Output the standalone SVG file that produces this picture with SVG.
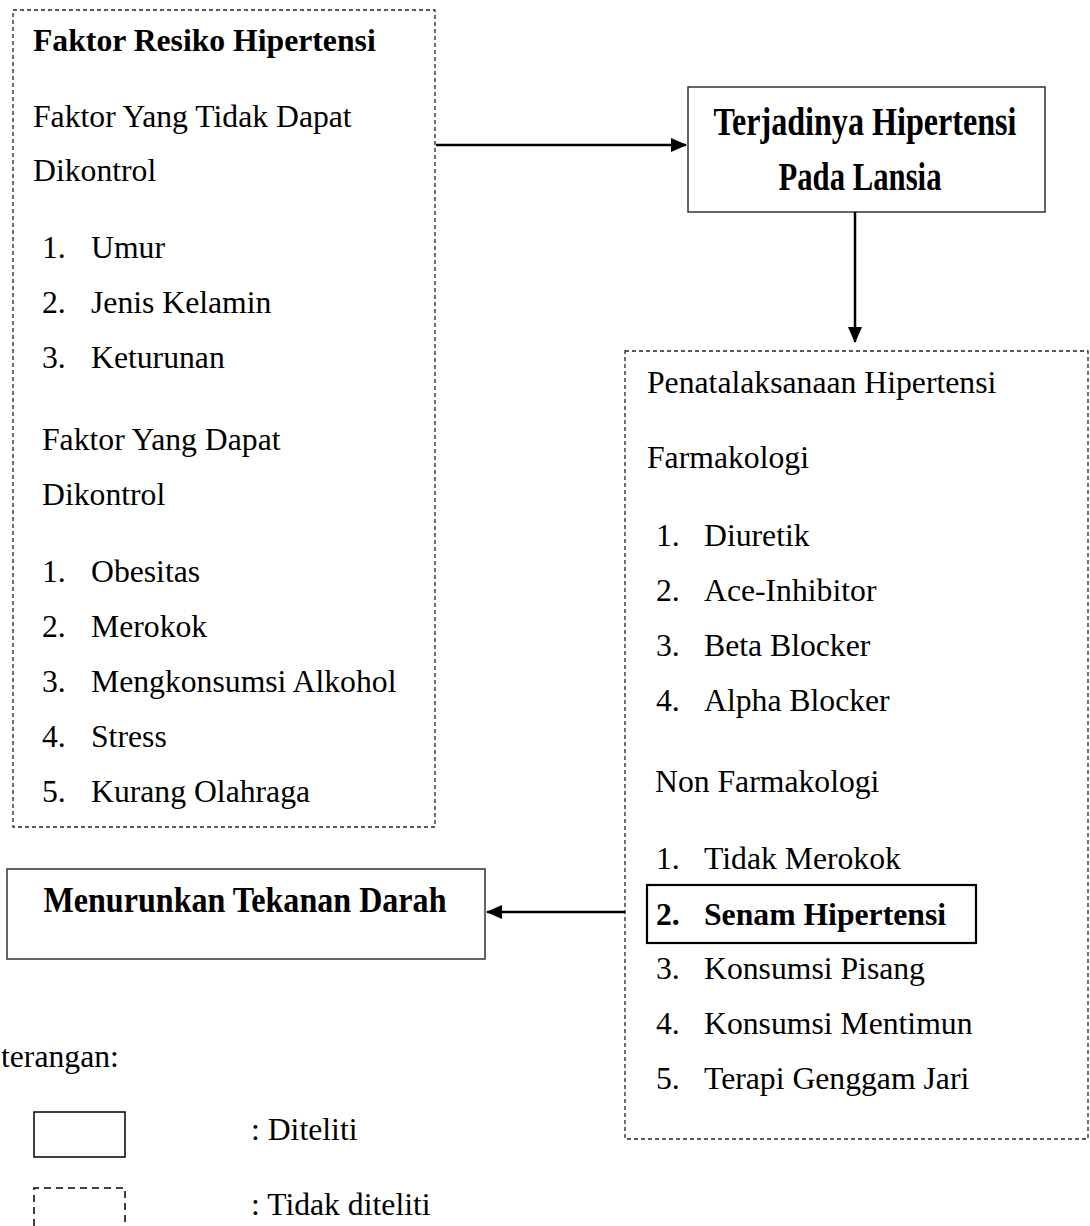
<svg xmlns="http://www.w3.org/2000/svg" width="1090" height="1226" viewBox="0 0 1090 1226">
<defs>
<style>
.t{font-family:"Liberation Serif","Times New Roman",serif;font-size:31.7px;fill:#000}
.b{font-weight:bold}
.dash{fill:none;stroke:#222;stroke-width:1.3;stroke-dasharray:4 3}
.solid{fill:#fff;stroke:#333;stroke-width:1.5}
.conn{fill:none;stroke:#000;stroke-width:2.5}
</style>
<marker id="ah" viewBox="0 0 16 14" refX="15" refY="7" markerWidth="16" markerHeight="14" markerUnits="userSpaceOnUse" orient="auto">
<path d="M0,0 L16,7 L0,14 z" fill="#000"/>
</marker>
</defs>
<rect width="1090" height="1226" fill="#fff"/>

<g id="faktor-resiko">
<rect class="dash" x="13" y="10" width="422" height="817"/>
<text class="t b" x="33" y="51">Faktor Resiko Hipertensi</text>
<text class="t" x="33" y="127">Faktor Yang Tidak Dapat</text>
<text class="t" x="33" y="181">Dikontrol</text>
<text class="t" x="42" y="258">1.</text><text class="t" x="91" y="258">Umur</text>
<text class="t" x="42" y="313">2.</text><text class="t" x="91" y="313">Jenis Kelamin</text>
<text class="t" x="42" y="368">3.</text><text class="t" x="91" y="368">Keturunan</text>
<text class="t" x="42" y="450">Faktor Yang Dapat</text>
<text class="t" x="42" y="505">Dikontrol</text>
<text class="t" x="42" y="582">1.</text><text class="t" x="91" y="582">Obesitas</text>
<text class="t" x="42" y="637">2.</text><text class="t" x="91" y="637">Merokok</text>
<text class="t" x="42" y="692">3.</text><text class="t" x="91" y="692">Mengkonsumsi Alkohol</text>
<text class="t" x="42" y="747">4.</text><text class="t" x="91" y="747">Stress</text>
<text class="t" x="42" y="802">5.</text><text class="t" x="91" y="802">Kurang Olahraga</text>
</g>

<g id="terjadinya">
<rect class="solid" x="688" y="87" width="357" height="125"/>
<text class="t b" x="865" y="135" text-anchor="middle" textLength="303" lengthAdjust="spacingAndGlyphs" style="font-size:40px">Terjadinya Hipertensi</text>
<text class="t b" x="860" y="190" text-anchor="middle" textLength="163" lengthAdjust="spacingAndGlyphs" style="font-size:40px">Pada Lansia</text>
</g>

<g id="penatalaksanaan">
<rect class="dash" x="625" y="351" width="463" height="788"/>
<text class="t" x="647" y="393">Penatalaksanaan Hipertensi</text>
<text class="t" x="647" y="468">Farmakologi</text>
<text class="t" x="656" y="546">1.</text><text class="t" x="704" y="546">Diuretik</text>
<text class="t" x="656" y="601">2.</text><text class="t" x="704" y="601">Ace-Inhibitor</text>
<text class="t" x="656" y="656">3.</text><text class="t" x="704" y="656">Beta Blocker</text>
<text class="t" x="656" y="711">4.</text><text class="t" x="704" y="711">Alpha Blocker</text>
<text class="t" x="655" y="792">Non Farmakologi</text>
<text class="t" x="656" y="869">1.</text><text class="t" x="704" y="869">Tidak Merokok</text>
<text class="t" x="656" y="979">3.</text><text class="t" x="704" y="979">Konsumsi Pisang</text>
<text class="t" x="656" y="1034">4.</text><text class="t" x="704" y="1034">Konsumsi Mentimun</text>
<text class="t" x="656" y="1089">5.</text><text class="t" x="704" y="1089">Terapi Genggam Jari</text>
</g>

<g id="senam">
<rect x="647" y="885" width="329" height="58" fill="none" stroke="#000" stroke-width="2.2"/>
<text class="t b" x="656" y="925">2.</text><text class="t b" x="704" y="925">Senam Hipertensi</text>
</g>

<g id="menurunkan">
<rect class="solid" x="7" y="869" width="478" height="90"/>
<text class="t b" x="245" y="912" text-anchor="middle" textLength="403" lengthAdjust="spacingAndGlyphs" style="font-size:36px">Menurunkan Tekanan Darah</text>
</g>

<g id="connectors">
<line class="conn" x1="436" y1="145" x2="686" y2="145" marker-end="url(#ah)"/>
<line class="conn" x1="855" y1="212" x2="855" y2="342" marker-end="url(#ah)"/>
<line class="conn" x1="625" y1="912" x2="487" y2="912" marker-end="url(#ah)"/>
</g>

<g id="legend">
<text class="t" x="1" y="1067">terangan:</text>
<rect x="34" y="1112" width="91" height="45" fill="none" stroke="#000" stroke-width="1.5"/>
<text class="t" x="251" y="1140">: Diteliti</text>
<path d="M34,1226 V1188 H125 V1226" fill="none" stroke="#000" stroke-width="1.5" stroke-dasharray="7 5"/>
<text class="t" x="251" y="1215">: Tidak diteliti</text>
</g>
</svg>
